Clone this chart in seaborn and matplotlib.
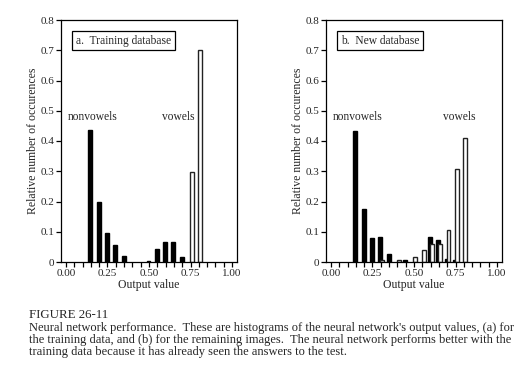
import matplotlib
matplotlib.use("Agg")
import matplotlib.pyplot as plt
import seaborn as sns
import numpy as np
import pandas as pd
from matplotlib.ticker import MultipleLocator, FixedLocator

# ---- data ----
bins_a_non = [0.15, 0.20, 0.25, 0.30, 0.35, 0.50, 0.55, 0.60, 0.65, 0.70]
vals_a_non = [0.437, 0.197, 0.097, 0.057, 0.021, 0.004, 0.044, 0.067, 0.067, 0.015]
bins_a_vow = [0.75, 0.80]
vals_a_vow = [0.299, 0.700]

bins_b_non = [0.15, 0.20, 0.25, 0.30, 0.35, 0.45, 0.60, 0.65, 0.70, 0.75]
vals_b_non = [0.432, 0.174, 0.078, 0.084, 0.028, 0.008, 0.081, 0.074, 0.010, 0.008]
bins_b_vow = [0.30, 0.40, 0.50, 0.55, 0.60, 0.65, 0.70, 0.75, 0.80]
vals_b_vow = [0.008, 0.008, 0.016, 0.041, 0.060, 0.060, 0.107, 0.306, 0.410]

x_ticks = [0.00, 0.25, 0.50, 0.75, 1.00]
x_tick_labels = ["0.00", "0.25", "0.50", "0.75", "1.00"]
y_ticks = [0, 0.1, 0.2, 0.3, 0.4, 0.5, 0.6, 0.7, 0.8]
y_tick_labels = ["0", "0.1", "0.2", "0.3", "0.4", "0.5", "0.6", "0.7", "0.8"]

panel_titles = ["a.  Training database", "b.  New database"]
caption_head = "FIGURE 26-11"
caption_lines = [
    "Neural network performance.  These are histograms of the neural network's output values, (a) for",
    "the training data, and (b) for the remaining images.  The neural network performs better with the",
    "training data because it has already seen the answers to the test.",
]

sns.set_theme(style="white")
plt.rcParams['font.family'] = ['Liberation Serif', 'DejaVu Serif']

fig = plt.figure(figsize=(5.29, 3.74), dpi=100)
ax_a = fig.add_axes([61/529, 1-262/374, 176/529, 242/374])
ax_b = fig.add_axes([326/529, 1-262/374, 176/529, 242/374])

def draw_bars(ax, bins, vals, face, edge, shift):
    n0 = len(ax.patches)
    df = pd.DataFrame({"x": bins, "y": vals})
    sns.barplot(data=df, x="x", y="y", native_scale=True, width=0.46,
                color=face, edgecolor=edge, linewidth=1.0, saturation=1,
                errorbar=None, ax=ax)
    for p in ax.patches[n0:]:
        p.set_facecolor(face)
        p.set_x(p.get_x() + shift)

panels = [
    (ax_a, bins_a_non, vals_a_non, bins_a_vow, vals_a_vow, panel_titles[0], 0.675),
    (ax_b, bins_b_non, vals_b_non, bins_b_vow, vals_b_vow, panel_titles[1], 0.77),
]

for ax, bn, vn, bv, vv, title, vx in panels:
    draw_bars(ax, bn, vn, "black", "black", -0.003)
    draw_bars(ax, bv, vv, "white", "#222222", 0.008)
    ax.set_xlim(-0.03, 1.03)
    ax.set_ylim(0, 0.8)
    ax.xaxis.set_major_locator(FixedLocator(x_ticks))
    ax.set_xticklabels(x_tick_labels)
    ax.xaxis.set_minor_locator(MultipleLocator(0.05))
    ax.set_yticks(y_ticks)
    ax.set_yticklabels(y_tick_labels)
    ax.tick_params(axis="both", which="both", direction="out", length=3.5,
                   width=0.9, color="black", labelsize=8, pad=1.5,
                   bottom=True, left=True, top=False, right=False)
    ax.tick_params(axis="x", which="minor", length=3.5)
    for s in ax.spines.values():
        s.set_visible(True)
        s.set_color("black")
        s.set_linewidth(0.9)
    ax.set_xlabel("Output value", fontsize=8.5, labelpad=0.5)
    ax.set_ylabel("Relative number of occurences", fontsize=8.5, labelpad=0.5)
    ax.text(0.06, 0.732, title, fontsize=8.3, ha="left", va="center",
            bbox=dict(boxstyle="square,pad=0.3", fc="white", ec="black", lw=0.9))
    ax.text(0.012, 0.48, "nonvowels", fontsize=8.3, ha="left", va="center")
    ax.text(vx, 0.48, "vowels", fontsize=8.3, ha="center", va="center")
    ax.grid(False)

fig.text(29/529, 1-318/374, caption_head, fontsize=9.3, ha="left", va="baseline")
for i, line in enumerate(caption_lines):
    fig.text(29/529, 1-(330.5 + 12*i)/374, line, fontsize=9, ha="left", va="baseline")

fig.savefig("out.png", dpi=100, facecolor="white")
